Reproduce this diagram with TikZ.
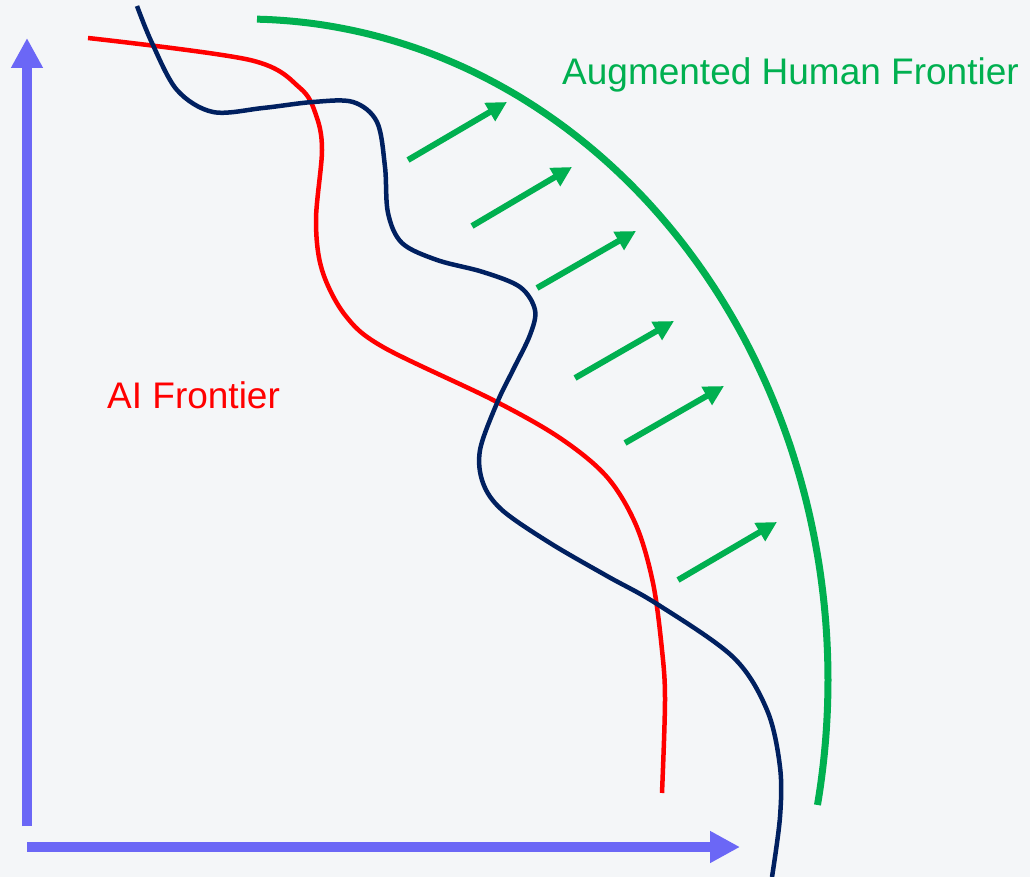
\documentclass[tikz,border=0pt]{standalone}
\usepackage{fontspec}
\setmainfont{Liberation Sans}
\usetikzlibrary{arrows.meta}
\definecolor{paper}{RGB}{244,246,248}
\definecolor{axisblue}{RGB}{107,103,246}
\definecolor{aired}{RGB}{255,0,0}
\definecolor{humannavy}{RGB}{0,32,96}
\definecolor{augreen}{RGB}{0,176,80}
\tikzset{
  axisline/.style={draw=axisblue, line width=10pt, -{Triangle[length=30pt,width=30pt]}},
  frontier/.style={line width=4.5pt, smooth, tension=0.55},
  pushout/.style={draw=augreen, line width=6pt, -{Triangle[length=20pt,width=20pt]}},
  label/.style={font=\fontsize{37}{44}\selectfont, anchor=base west, inner sep=0pt}
}
\begin{document}
\begin{tikzpicture}[x=1pt,y=-1pt]
\fill[paper] (0,0) rectangle (1030,877);
\useasboundingbox (0,0) rectangle (1030,877);

% axes
\coordinate (origin-v) at (27,826);
\coordinate (ytop) at (27,38);
\coordinate (origin-h) at (27,847);
\coordinate (xend) at (740,847);
\draw[axisline] (origin-v) -- (ytop);
\draw[axisline] (origin-h) -- (xend);

% AI frontier
\draw[aired, frontier] plot coordinates {
  (88,38) (250,60) (300,88) (316,115) (322,150) (316,220) (322,270) (345,315)
  (383,347) (493,400) (560,438) (607,477) (636,525) (653,583) (662,650) (665,700) (662,793)};

% human frontier
\draw[humannavy, frontier] plot coordinates {
  (137,6) (152,43) (177,90) (213,112) (263,108) (313,102) (353,102) (377,122)
  (385,167) (388,213) (402,243) (437,260) (483,272) (520,287) (535,310) (530,335)
  (513,370) (497,403) (480,450) (483,483) (502,510) (550,543) (607,576) (657,604)
  (733,657) (767,710) (780,767) (780,817) (772,877)};

% augmented human frontier: elliptical arc
\draw[augreen, line width=7pt] plot[domain=88.82:-10.9, samples=120, smooth]
  ({245+583*cos(\x)},{680-661*sin(\x)});

% outward shift
\coordinate (a1s) at (408,160); \coordinate (a1e) at (507,102);
\coordinate (a2s) at (472,226); \coordinate (a2e) at (572,167);
\coordinate (a3s) at (537,288); \coordinate (a3e) at (636,231);
\coordinate (a4s) at (575,378); \coordinate (a4e) at (674,321);
\coordinate (a5s) at (625,443); \coordinate (a5e) at (724,386);
\coordinate (a6s) at (678,580); \coordinate (a6e) at (777,522);
\foreach \i in {1,...,6} \draw[pushout] (a\i s) -- (a\i e);

% labels
\node[label, text=augreen] (auglabel) at (562,85) {Augmented Human Frontier};
\node[label, text=aired] (ailabel) at (107,408) {AI Frontier};
\end{tikzpicture}
\end{document}
